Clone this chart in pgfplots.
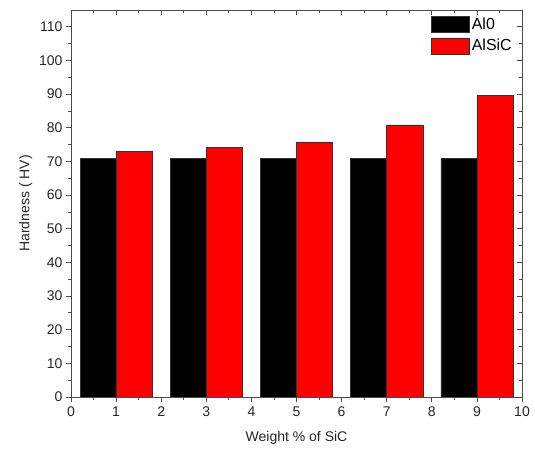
\documentclass[border=0pt]{standalone}
\usepackage{pgfplots}
\pgfplotsset{compat=1.18}
\usepackage{fontspec}
\setmainfont{Liberation Sans}
\begin{document}
\begin{tikzpicture}
\begin{axis}[
  name=main,
  scale only axis,
  width=451pt, height=387pt,
  xmin=0, xmax=10, ymin=0, ymax=115,
  xtick={0,1,...,10}, ytick={0,10,...,110},
  minor x tick num=1, minor y tick num=1,
  xtick pos=bottom, ytick pos=left,
  tick align=outside,
  major tick length=5pt, minor tick length=3pt,
  tick style={line width=0.8pt, color=black!70},
  axis line style={line width=0.9pt, color=black!70},
  /pgf/number format/assume math mode=true,
  ticklabel style={font=\fontsize{14}{16}\selectfont, text=black!85},
  xticklabel style={yshift=-1pt},
  xlabel={Weight \% of SiC},
  ylabel={Hardness ( HV)},
  label style={font=\fontsize{14}{16}\selectfont, text=black!85},
  xlabel style={yshift=-8pt},
  ylabel style={yshift=0pt},
  legend style={draw=none, fill=none, at={(1,1)}, anchor=north east,
     xshift=-6pt, yshift=-4pt,
     font=\fontsize{16}{18}\selectfont, row sep=4pt,
     legend cell align=left, inner xsep=2pt,
     nodes={inner xsep=2pt}},
  legend image code/.code={\draw[#1] (0pt,-8pt) rectangle (38pt,8pt);},
]
\addplot[ybar, bar width=0.8, bar shift=0pt, fill=black, draw=black!80, line width=0.5pt]
  coordinates {(0.6,70.8) (2.6,70.8) (4.6,70.8) (6.6,70.8) (8.6,70.8)};
\addlegendentry{Al0}
\addplot[ybar, bar width=0.8, bar shift=0pt, fill=red, draw=black!80, line width=0.5pt]
  coordinates {(1.4,73.0) (3.4,74.2) (5.4,75.6) (7.4,80.9) (9.4,89.7)};
\addlegendentry{AlSiC}
\end{axis}
\begin{axis}[
  scale only axis,
  width=451pt, height=387pt,
  xmin=0, xmax=10, ymin=0, ymax=115,
  xtick={0,1,...,10}, ytick={0,10,...,110},
  minor x tick num=1, minor y tick num=1,
  xtick pos=top, ytick pos=right,
  tick align=inside,
  major tick length=5pt, minor tick length=3pt,
  tick style={line width=0.8pt, color=black!70},
  axis line style={line width=0.9pt, color=black!70},
  xticklabels={}, yticklabels={},
]
\end{axis}
\path (main.south west) ++(-71pt,-58pt) rectangle ++(535pt,455pt);
\end{tikzpicture}
\end{document}
